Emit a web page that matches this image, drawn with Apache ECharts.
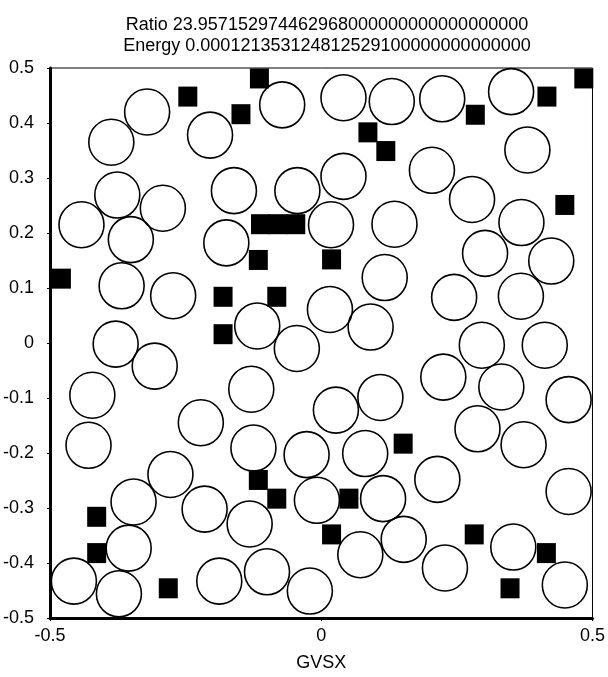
<!DOCTYPE html>
<html>
<head>
<meta charset="utf-8">
<script src="https://cdn.jsdelivr.net/npm/echarts@6/dist/echarts.min.js"></script>
<style>
  html, body { margin: 0; padding: 0; background: #fff; }
  #chart { width: 608px; height: 677px; }
</style>
</head>
<body>
<div id="chart"></div>
<script>
// open circles (particles)
const circleX = [-0.321, -0.387, -0.205, -0.072, -0.161, -0.044, -0.376, -0.292, -0.442, -0.351,
  -0.175, -0.368, -0.273, -0.118, 0.041, 0.130, 0.223, 0.350, 0.380, 0.204,
  0.041, 0.278, 0.369, 0.018, 0.135, 0.302, 0.424, 0.117, 0.245, 0.368,
  0.016, 0.091, -0.379, -0.307, -0.045, -0.129, -0.422, -0.222, -0.429, -0.125,
  -0.027, -0.278, -0.346, -0.215, -0.132, -0.008, -0.355, -0.456, -0.373, -0.188,
  -0.100, -0.021, 0.296, 0.412, 0.225, 0.332, 0.456, 0.027, 0.109, 0.288,
  0.373, 0.081, 0.214, 0.456, 0.114, 0.152, 0.072, 0.354, 0.228, 0.449]
const circleY = [0.420, 0.365, 0.378, 0.433, 0.277, 0.277, 0.269, 0.245, 0.215, 0.188,
  0.182, 0.104, 0.086, 0.031, 0.446, 0.439, 0.444, 0.457, 0.351, 0.314,
  0.303, 0.261, 0.219, 0.215, 0.216, 0.163, 0.149, 0.119, 0.083, 0.085,
  0.061, 0.029, -0.002, -0.042, -0.010, -0.084, -0.095, -0.145, -0.186, -0.191,
  -0.203, -0.239, -0.289, -0.302, -0.329, -0.286, -0.373, -0.433, -0.456, -0.433,
  -0.416, -0.451, -0.004, -0.004, -0.062, -0.080, -0.103, -0.122, -0.099, -0.156,
  -0.185, -0.201, -0.248, -0.270, -0.283, -0.357, -0.385, -0.371, -0.409, -0.440]

// filled squares
const squareX = [-0.246, -0.114, -0.148, 0.484, 0.416, 0.284, 0.086, 0.119, 0.449, -0.479,
  -0.112, -0.080, -0.047, -0.116, 0.019, -0.181, -0.082, -0.181, 0.151, -0.414,
  -0.414, -0.116, -0.082, 0.051, 0.019, 0.282, 0.415, -0.282, 0.348]
const squareY = [0.448, 0.481, 0.416, 0.481, 0.448, 0.415, 0.383, 0.349, 0.251, 0.117,
  0.216, 0.216, 0.216, 0.151, 0.152, 0.084, 0.084, 0.016, -0.183, -0.316,
  -0.382, -0.249, -0.283, -0.283, -0.348, -0.348, -0.382, -0.446, -0.446]

const xTickLabels = ['-0.5', '0', '0.5']
const yTickLabels = ['-0.5', '-0.4', '-0.3', '-0.2', '-0.1', '0', '0.1', '0.2', '0.3', '0.4', '0.5']

const titleLines = [
  'Ratio 23.957152974462968000000000000000000',
  'Energy 0.000121353124812529100000000000000'
]

const font = "'Liberation Sans', Arial, sans-serif"

const chart = echarts.init(document.getElementById('chart'), null, { renderer: 'canvas' })

chart.setOption({
  animation: false,
  backgroundColor: '#fff',
  title: {
    text: titleLines.join('\n'),
    left: 322,
    top: 10,
    textAlign: 'center',
    textStyle: { fontFamily: font, fontSize: 18, fontWeight: 'normal', color: '#000', lineHeight: 21 }
  },
  grid: {
    left: 48, right: 13, top: 68, bottom: 53,
    show: true, borderColor: '#000', borderWidth: 1
  },
  xAxis: {
    type: 'value',
    min: -0.5, max: 0.5, interval: 0.5,
    name: 'GVSX',
    nameLocation: 'middle',
    nameGap: 36,
    nameTextStyle: { fontFamily: font, fontSize: 18, color: '#000' },
    axisLine: { show: true, onZero: false, lineStyle: { color: '#000', width: 3 } },
    axisTick: { show: true, length: 3, lineStyle: { color: '#000' } },
    splitLine: { show: false },
    axisLabel: {
      fontFamily: font, fontSize: 18, color: '#000', margin: 9,
      formatter: v => xTickLabels[Math.round((v + 0.5) / 0.5)]
    }
  },
  yAxis: {
    type: 'value',
    min: -0.5, max: 0.5, interval: 0.1,
    axisLine: { show: true, onZero: false, lineStyle: { color: '#000', width: 3 } },
    axisTick: { show: true, length: 3, lineStyle: { color: '#000' } },
    splitLine: { show: false },
    axisLabel: {
      fontFamily: font, fontSize: 18, color: '#000', margin: 16,
      formatter: v => yTickLabels[Math.round((v + 0.5) / 0.1)]
    }
  },
  series: [
    {
      type: 'scatter',
      symbol: 'circle',
      symbolSize: [45, 46],
      data: circleX.map((x, i) => [x, circleY[i]]),
      itemStyle: { color: 'rgba(0,0,0,0)', borderColor: '#000', borderWidth: 1.6, opacity: 1 },
      silent: true
    },
    {
      type: 'scatter',
      symbol: 'rect',
      symbolSize: [19, 20],
      data: squareX.map((x, i) => [x, squareY[i]]),
      itemStyle: { color: '#000', opacity: 1 },
      silent: true
    }
  ]
})
</script>
</body>
</html>
